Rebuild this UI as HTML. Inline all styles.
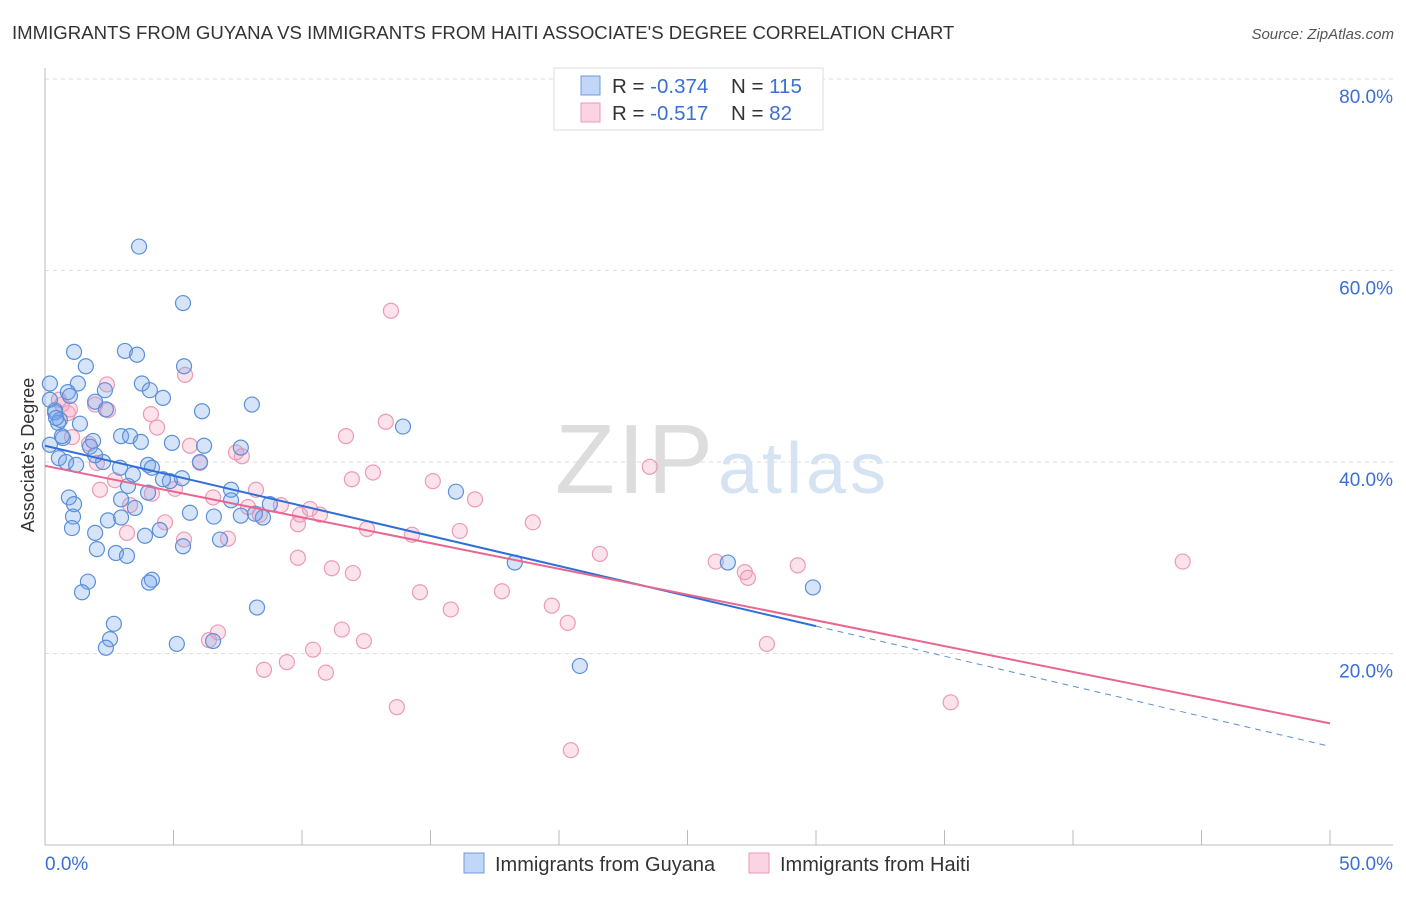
<!DOCTYPE html>
<html><head><meta charset="utf-8"><style>
body{margin:0;background:#fff;font-family:"Liberation Sans",sans-serif;}
svg text{font-family:"Liberation Sans",sans-serif;}
</style></head><body>
<svg id="chart" width="1406" height="892" xmlns="http://www.w3.org/2000/svg">
<text x="12" y="39" font-size="18.6" fill="#333">IMMIGRANTS FROM GUYANA VS IMMIGRANTS FROM HAITI ASSOCIATE'S DEGREE CORRELATION CHART</text>
<text x="1394" y="39" font-size="15" fill="#555" font-style="italic" text-anchor="end">Source: ZipAtlas.com</text>
<g id="grid"></g>
<g id="axes"></g>
<text x="555" y="493" font-size="98" fill="#ddd" font-family="Liberation Serif" textLength="158">ZIP</text>
<text x="718" y="493" font-size="72" fill="#d5e3f3" textLength="168">atlas</text>
<g id="pts"></g>
<g id="lines"></g>
<text transform="translate(34,455) rotate(-90)" font-size="18" fill="#333" text-anchor="middle">Associate's Degree</text>
<g>
<rect x="554" y="68" width="269" height="62" fill="#fff" stroke="#ddd"/>
<rect x="581" y="76" width="19" height="19" fill="rgba(120,165,235,0.45)" stroke="#6d9ae0"/>
<rect x="581" y="103" width="19" height="19" fill="rgba(245,160,190,0.45)" stroke="#ec9ab5"/>
<text x="612" y="93" font-size="20.5" fill="#333">R = <tspan fill="#3b6fd4">-0.374</tspan></text>
<text x="731" y="93" font-size="20.5" fill="#333">N = <tspan fill="#3b6fd4">115</tspan></text>
<text x="612" y="120" font-size="20.5" fill="#333">R = <tspan fill="#3b6fd4"> -0.517</tspan></text>
<text x="731" y="120" font-size="20.5" fill="#333">N = <tspan fill="#3b6fd4"> 82</tspan></text>
</g>
<g>
<rect x="464" y="853" width="20" height="20" fill="rgba(120,165,235,0.45)" stroke="#6d9ae0"/>
<text x="495" y="871" font-size="20" fill="#333">Immigrants from Guyana</text>
<rect x="749" y="853" width="20" height="20" fill="rgba(245,160,190,0.45)" stroke="#ec9ab5"/>
<text x="780" y="871" font-size="20" fill="#333">Immigrants from Haiti</text>
</g>
</svg>
<script>
const guyanaX=[3.66,5.37,1.13,3.11,3.58,1.59,5.41,0.19,1.28,3.77,2.33,4.08,0.89,4.59,0.19,1.95,8.05,6.11,2.37,0.39,0.58,13.93,2.96,3.31,3.73,4.94,1.87,0.70,6.19,7.62,1.75,0.54,0.82,2.26,4.01,4.16,1.21,6.03,2.92,3.42,5.33,4.86,4.59,3.23,7.24,15.99,0.93,4.01,2.96,1.13,3.50,7.24,8.75,1.09,2.45,2.96,6.57,7.62,8.48,8.17,1.05,4.47,1.95,3.89,6.81,2.02,2.76,3.19,5.37,18.28,26.57,1.67,4.16,4.05,1.44,8.25,2.68,2.53,2.37,5.13,6.54,20.81,29.88,5.64,1.95,0.19,0.51,0.39,0.66,0.43,1.36,0.97];
const guyanaY=[62.5,56.6,51.5,51.6,51.2,50.0,50.0,48.2,48.2,48.2,47.5,47.5,47.3,46.7,46.5,46.3,46.0,45.3,45.5,45.4,44.4,43.7,42.7,42.7,42.1,42.0,42.2,42.5,41.7,41.5,41.6,40.4,40.0,40.0,39.7,39.4,39.7,40.0,39.4,38.7,38.3,38.0,38.2,37.5,37.1,36.9,36.3,36.8,36.1,35.6,35.2,36.0,35.6,34.3,33.9,34.2,34.3,34.4,34.2,34.6,33.1,32.9,32.6,32.3,31.9,30.9,30.5,30.2,31.2,29.5,29.5,27.5,27.7,27.4,26.4,24.8,23.1,21.5,20.6,21.0,21.3,18.7,26.9,34.7,40.7,41.8,44.1,45.2,42.7,44.6,44.0,46.9];
const haitiX=[13.46,5.45,2.41,2.45,4.12,13.26,11.71,4.36,5.64,7.66,23.53,12.76,6.03,2.02,11.94,15.09,2.72,5.06,4.16,6.54,16.73,8.21,7.90,9.18,10.31,18.98,16.14,9.84,4.67,5.41,7.12,12.53,14.28,3.19,21.59,9.84,11.16,11.98,26.10,27.23,27.35,29.29,44.27,14.59,17.78,15.79,19.72,20.34,11.55,12.41,10.43,6.73,6.38,9.41,8.52,10.93,13.69,28.09,35.24,20.46,0.54,0.89,1.05,1.71,2.14,0.97,0.66,1.95,7.43,8.36,9.92,10.70,3.31];
const haitiY=[55.8,49.1,48.1,45.4,45.0,44.2,42.7,43.6,41.7,40.6,39.5,38.9,39.9,39.9,38.2,38.0,38.1,37.2,36.7,36.3,36.1,37.1,35.3,35.5,35.1,33.7,32.8,33.5,33.7,31.9,32.0,33.0,32.4,32.6,30.4,30.0,28.9,28.4,29.6,28.5,27.9,29.2,29.6,26.4,26.5,24.6,25.0,23.2,22.5,21.3,20.4,22.2,21.4,19.1,18.3,18.0,14.4,21.0,14.9,9.9,46.5,45.1,42.6,41.9,37.1,45.5,46.0,46.0,41.0,34.5,34.5,34.5,35.5];
const yTicks=[20,40,60,80];
const yTickLabels=["20.0%","40.0%","60.0%","80.0%"];
const xTickLabels=["0.0%","50.0%"];
const guyanaTrend=[41.7,-0.628]; // intercept, slope
const haitiTrend=[39.6,-0.538];

const NS="http://www.w3.org/2000/svg";
const X=v=>45+v/50*1285;
const Y=v=>845-v/20*191.5;
function mk(t,a,p){const e=document.createElementNS(NS,t);for(const k in a)e.setAttribute(k,a[k]);p.appendChild(e);return e;}
const grid=document.getElementById('grid'),axes=document.getElementById('axes'),pts=document.getElementById('pts'),lines=document.getElementById('lines');
yTicks.forEach((t,i)=>{
 const l=mk('line',{x1:45,x2:1393,y1:Y(t),y2:Y(t),stroke:'#ddd','stroke-dasharray':'4,4'},grid);
 
 
 const tx=mk('text',{x:1393,y:Y(t)+24,'font-size':19,fill:'#3b6fd4','text-anchor':'end'},axes);
 tx.textContent=yTickLabels[i];
 
 
});
const ax=mk('line',{x1:45,x2:1393,y1:845,y2:845,stroke:'#bbb'},axes);


const ay=mk('line',{x1:45,x2:45,y1:68,y2:845,stroke:'#bbb'},axes);


for(let v=0;v<=50;v+=5){
 const tk=mk('line',{x1:X(v),x2:X(v),y1:830,y2:845,stroke:'#bbb'},axes);
 
 
}
[[0,'start',45],[1,'end',1393]].forEach(([i,a,x])=>{
 const tx=mk('text',{x:x,y:870,'font-size':19,fill:'#3b6fd4','text-anchor':a},axes);
 tx.textContent=xTickLabels[i];
 
 
});
function series(xs,ys,fill,stroke,name){
 xs.forEach((x,i)=>{
  const c=mk('circle',{cx:X(x),cy:Y(ys[i]),r:7.5,fill:fill,stroke:stroke,'stroke-width':1.2},pts);
  
  
 });
}
series(haitiX,haitiY,'rgba(245,160,190,0.3)','#ec9ab5','haiti-point');
series(guyanaX,guyanaY,'rgba(120,165,235,0.3)','#5b8fd9','guyana-point');
const lb=mk('line',{x1:X(0),y1:Y(guyanaTrend[0]),x2:X(30),y2:Y(guyanaTrend[0]+guyanaTrend[1]*30),stroke:'#2f6fd6','stroke-width':2},lines);


const lbd=mk('line',{x1:X(30),y1:Y(guyanaTrend[0]+guyanaTrend[1]*30),x2:X(50),y2:Y(guyanaTrend[0]+guyanaTrend[1]*50),stroke:'#5b8fd9','stroke-width':1,'stroke-dasharray':'6,5'},lines);


const lp=mk('line',{x1:X(0),y1:Y(haitiTrend[0]),x2:X(50),y2:Y(haitiTrend[0]+haitiTrend[1]*50),stroke:'#e8668f','stroke-width':2},lines);


</script>
</body></html>
